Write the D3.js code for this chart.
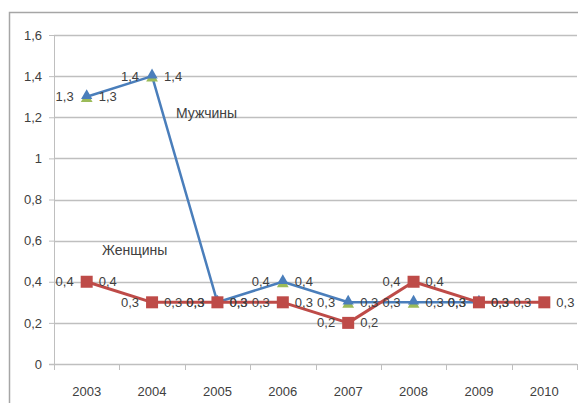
<!DOCTYPE html>
<html>
<head>
<meta charset="utf-8">
<script src="https://cdn.jsdelivr.net/npm/d3@7"></script>
<style>
  body { margin: 0; background: #fff; }
  text { font-family: "Liberation Sans", Arial, sans-serif; fill: #404040; }
</style>
</head>
<body>
<div id="chart"></div>
<script>
// chart data
var years = ["2003", "2004", "2005", "2006", "2007", "2008", "2009", "2010"];
var men = [1.3, 1.4, 0.3, 0.4, 0.3, 0.3, 0.3, null];
var menShadow = [1.3, 1.4, 0.3, 0.4, 0.3, 0.3, 0.3, null];
var women = [0.4, 0.3, 0.3, 0.3, 0.2, 0.4, 0.3, 0.3];
var yTicks = [0, 0.2, 0.4, 0.6, 0.8, 1, 1.2, 1.4, 1.6];

var svgWidth = 578;
var svgHeight = 403;

var margin = { top: 35, right: 1, bottom: 39, left: 54 };
var width = svgWidth - margin.left - margin.right;
var height = svgHeight - margin.top - margin.bottom;

var ru = d3.formatLocale({ decimal: ",", thousands: " ", grouping: [3], currency: ["", ""] });
var fmt = ru.format(".1~f");

var svg = d3.select("#chart")
  .append("svg")
  .attr("width", svgWidth)
  .attr("height", svgHeight);

// outer frame
svg.append("path")
  .attr("d", "M9.5," + svgHeight + "V12.5H" + svgWidth)
  .attr("fill", "none")
  .attr("stroke", "#a6a6a6")
  .attr("stroke-width", 1.5);

var chartGroup = svg.append("g")
  .attr("transform", `translate(${margin.left}, ${margin.top})`);

var xScale = d3.scaleBand()
  .domain(years)
  .range([0, width]);

var yScale = d3.scaleLinear()
  .domain([0, 1.6])
  .range([height, 0]);

// gridlines
chartGroup.append("g")
  .selectAll("line")
  .data(yTicks.filter(d => d > 0))
  .enter()
  .append("line")
  .attr("x1", 0)
  .attr("x2", width)
  .attr("y1", d => Math.round(yScale(d)) + 0.5)
  .attr("y2", d => Math.round(yScale(d)) + 0.5)
  .attr("stroke", "#bfbfbf")
  .attr("stroke-width", 1.5);

// axes
var leftAxis = d3.axisLeft(yScale)
  .tickValues(yTicks)
  .tickFormat(fmt)
  .tickSize(5)
  .tickPadding(7);

var yAxis = chartGroup.append("g").call(leftAxis);
yAxis.select(".domain").attr("stroke", "#bfbfbf").attr("d", `M0.5,0V${height}`);
yAxis.selectAll(".tick line").attr("stroke", "#bfbfbf");
yAxis.selectAll("text").attr("font-size", 13).attr("fill", "#404040");

var bottomAxis = d3.axisBottom(xScale)
  .tickSize(0)
  .tickPadding(23);

var xAxis = chartGroup.append("g")
  .attr("transform", `translate(0, ${height})`)
  .call(bottomAxis);
xAxis.select(".domain").attr("stroke", "#bfbfbf").attr("stroke-width", 1.5).attr("d", `M-5,0.5H${width}`);
xAxis.selectAll("text").attr("font-size", 13).attr("fill", "#404040");

// category boundary ticks
xAxis.selectAll(".bound")
  .data(years.concat(["end"]))
  .enter()
  .append("line")
  .attr("x1", (d, i) => Math.round(i * xScale.step()) + 0.5)
  .attr("x2", (d, i) => Math.round(i * xScale.step()) + 0.5)
  .attr("y1", 0)
  .attr("y2", 6)
  .attr("stroke", "#bfbfbf");

var cx = (d, i) => xScale(years[i]) + xScale.bandwidth() / 2;

function drawLine(values, color, w) {
  var line = d3.line()
    .defined(d => d != null)
    .x((d, i) => cx(d, i))
    .y(d => yScale(d));
  chartGroup.append("path")
    .datum(values)
    .attr("d", line)
    .attr("fill", "none")
    .attr("stroke", color)
    .attr("stroke-width", w)
    .attr("stroke-linejoin", "round");
}

function drawLabels(values, dxLeft, dxRight) {
  var pts = values.map((v, i) => ({ v: v, i: i })).filter(d => d.v != null);
  var g = chartGroup.append("g").attr("font-size", 13);
  g.selectAll(".l")
    .data(pts)
    .enter()
    .append("text")
    .attr("x", d => cx(d.v, d.i) - dxLeft)
    .attr("y", d => yScale(d.v))
    .attr("dy", "0.35em")
    .attr("text-anchor", "end")
    .text(d => fmt(d.v));
  g.selectAll(".r")
    .data(pts)
    .enter()
    .append("text")
    .attr("x", d => cx(d.v, d.i) + dxRight)
    .attr("y", d => yScale(d.v))
    .attr("dy", "0.35em")
    .attr("text-anchor", "start")
    .text(d => fmt(d.v));
}

// men
drawLine(men, "#4a7ebb", 2.5);
var tri = d3.symbol().type(d3.symbolTriangle).size(60);
chartGroup.append("g")
  .selectAll("path")
  .data(menShadow.map((v, i) => ({ v: v, i: i })).filter(d => d.v != null))
  .enter()
  .append("path")
  .attr("d", tri)
  .attr("transform", d => `translate(${cx(d.v, d.i)}, ${yScale(d.v) + 2})`)
  .attr("fill", "#9bbb59");
chartGroup.append("g")
  .selectAll("path")
  .data(men.map((v, i) => ({ v: v, i: i })).filter(d => d.v != null))
  .enter()
  .append("path")
  .attr("d", d3.symbol().type(d3.symbolTriangle).size(55))
  .attr("transform", d => `translate(${cx(d.v, d.i)}, ${yScale(d.v) - 1})`)
  .attr("fill", "#4a7ebb");

// women
drawLine(women, "#be4b48", 3);
chartGroup.append("g")
  .selectAll("rect")
  .data(women.map((v, i) => ({ v: v, i: i })))
  .enter()
  .append("rect")
  .attr("x", d => cx(d.v, d.i) - 6)
  .attr("y", d => yScale(d.v) - 6)
  .attr("width", 12)
  .attr("height", 12)
  .attr("fill", "#be4b48");

drawLabels(men, 13, 12);
drawLabels(women, 13, 12);

// series names
chartGroup.append("text")
  .attr("x", 176 - margin.left)
  .attr("y", 118 - margin.top)
  .attr("font-size", 14)
  .text("Мужчины");

chartGroup.append("text")
  .attr("x", 102 - margin.left)
  .attr("y", 255 - margin.top)
  .attr("font-size", 14)
  .text("Женщины");
</script>
</body>
</html>
